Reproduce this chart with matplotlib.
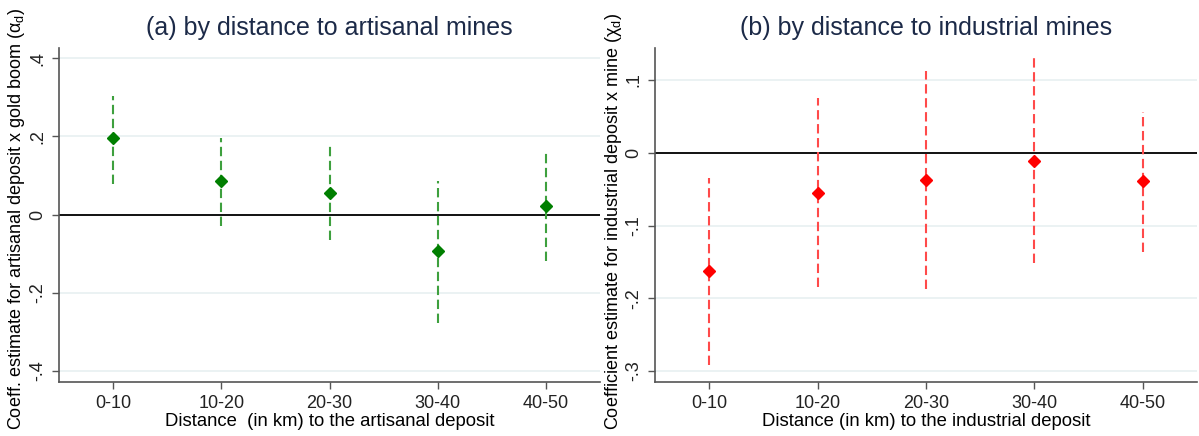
import matplotlib.pyplot as plt
import matplotlib.ticker as mticker

plt.rcParams['font.family'] = ['Liberation Sans', 'DejaVu Sans']
plt.rcParams['mathtext.fontset'] = 'custom'
plt.rcParams['mathtext.rm'] = 'Liberation Sans'
plt.rcParams['mathtext.it'] = 'Liberation Sans'

categories = ["0-10", "10-20", "20-30", "30-40", "40-50"]

# panel a: artisanal mines
art_coef = [0.195, 0.085, 0.056, -0.092, 0.023]
art_lo = [0.077, -0.028, -0.064, -0.277, -0.118]
art_hi = [0.303, 0.197, 0.179, 0.085, 0.162]

# panel b: industrial mines
ind_coef = [-0.163, -0.055, -0.037, -0.011, -0.0385]
ind_lo = [-0.292, -0.184, -0.187, -0.151, -0.137]
ind_hi = [-0.034, 0.075, 0.113, 0.130, 0.056]


def stata_fmt(v, pos):
    if abs(v) < 1e-9:
        return "0"
    s = "%g" % round(v, 2)
    return s.replace("0.", ".")


def panel(ax, coef, lo, hi, mcol, lcol, yticks, ylim, title, xlabel):
    x = list(range(1, len(categories) + 1))
    for xi, l, h in zip(x, lo, hi):
        ax.plot([xi, xi], [l, h], color=lcol, lw=1.5, dashes=(4.5, 2.2), zorder=2)
    ax.plot(x, coef, linestyle="none", marker="D", markersize=6.5,
            color=mcol, zorder=3)
    ax.axhline(0, color="black", lw=1.3, zorder=1)
    ax.set_xlim(0.5, 5.5)
    ax.set_ylim(*ylim)
    ax.set_xticks(x)
    ax.set_xticklabels(categories)
    ax.set_yticks(yticks)
    ax.yaxis.set_major_formatter(mticker.FuncFormatter(stata_fmt))
    ax.grid(axis="y", color="#e8f0f1", lw=1.2, zorder=0)
    ax.set_axisbelow(True)
    for s in ["top", "right"]:
        ax.spines[s].set_visible(False)
    for s in ["left", "bottom"]:
        ax.spines[s].set_color("#555555")
        ax.spines[s].set_linewidth(1.2)
    ax.tick_params(axis="both", length=5, width=1, color="#555555",
                   labelsize=13, labelcolor="#222222")
    ax.tick_params(axis="x", pad=4)
    ax.tick_params(axis="y", pad=4)
    for t in ax.get_yticklabels():
        t.set_rotation(90)
        t.set_va("center")
    ax.set_title(title, fontsize=18, color="#1c2a48", pad=9)
    ax.set_xlabel(xlabel, fontsize=13.3, labelpad=1)


fig = plt.figure(figsize=(11.99, 4.36), dpi=100)
ax1 = fig.add_axes([59 / 1199, 54 / 436, 541 / 1199, 334 / 436])
ax2 = fig.add_axes([655 / 1199, 54 / 436, 542 / 1199, 334 / 436])

panel(ax1, art_coef, art_lo, art_hi, "#007f00", "#3ea03e",
      [-0.4, -0.2, 0, 0.2, 0.4], (-0.428, 0.426),
      "(a) by distance to artisanal mines",
      "Distance  (in km) to the artisanal deposit")
panel(ax2, ind_coef, ind_lo, ind_hi, "#ff0000", "#ff4a4a",
      [-0.3, -0.2, -0.1, 0, 0.1], (-0.315, 0.144),
      "(b) by distance to industrial mines",
      "Distance (in km) to the industrial deposit")

fig.text(17 / 1199, 6 / 436,
         "Coeff. estimate for artisanal deposit x gold boom ($\\alpha_d$)",
         rotation=90, ha="center", va="bottom", fontsize=13)
fig.text(613 / 1199, 6 / 436,
         "Coefficient estimate for industrial deposit x mine ($\\chi_d$)",
         rotation=90, ha="center", va="bottom", fontsize=13)

fig.savefig("out.png", dpi=100)
